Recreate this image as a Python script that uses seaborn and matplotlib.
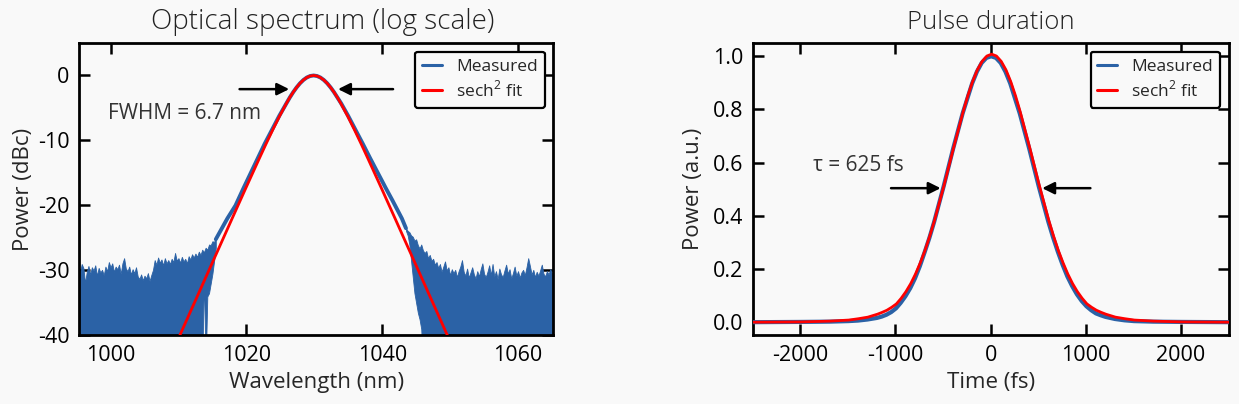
import numpy as np
import pandas as pd
import seaborn as sns
import matplotlib.pyplot as plt

# ---- optical spectrum (dBc vs nm) ----
fit_wl = [1009.9, 1011.9, 1013.9, 1015.9, 1017.9, 1019.9, 1021.9, 1022.9, 1023.9, 1024.9,
          1025.9, 1026.4, 1026.9, 1027.4, 1027.9, 1028.4, 1028.9, 1029.4, 1029.9, 1030.4,
          1030.9, 1031.4, 1031.9, 1032.4, 1032.9, 1033.4, 1033.9, 1034.9, 1035.9, 1036.9,
          1037.9, 1039.9, 1041.9, 1043.9, 1045.9, 1047.9, 1049.9]
fit_db = [-40.68, -36.01, -31.34, -26.68, -22.01, -17.37, -12.78, -10.52, -8.33, -6.23,
          -4.28, -3.38, -2.56, -1.83, -1.20, -0.69, -0.31, -0.08, 0.0, -0.08,
          -0.31, -0.69, -1.20, -1.83, -2.56, -3.38, -4.28, -6.23, -8.33, -10.52,
          -12.78, -17.37, -22.01, -26.68, -31.34, -36.01, -40.68]

meas_wl = [1015.5, 1017.2, 1018.4, 1019.55, 1021.65, 1022.7, 1023.8, 1024.85, 1025.9, 1026.4,
           1026.9, 1027.4, 1027.9, 1028.4, 1028.9, 1029.4, 1029.9, 1030.4, 1030.9, 1031.4,
           1031.9, 1032.4, 1032.9, 1033.4, 1033.95, 1035.0, 1036.05, 1037.15, 1038.25, 1040.55,
           1041.5, 1042.9, 1043.5]
meas_db = [-25.2, -22.0, -20.0, -17.4, -12.8, -10.5, -8.3, -6.2, -4.28, -3.38,
           -2.56, -1.83, -1.20, -0.69, -0.31, -0.08, 0.0, -0.08, -0.31, -0.69,
           -1.20, -1.83, -2.56, -3.38, -4.28, -6.23, -8.33, -10.52, -12.78, -17.37,
           -19.2, -22.0, -23.5]

# noise floor, left wing (top and bottom of the noisy band)
noise_l_wl = [995.0, 995.25, 995.5, 995.75, 996.0, 996.25, 996.5, 996.75, 997.0, 997.25,
              997.5, 997.75, 998.0, 998.25, 998.5, 998.75, 999.0, 999.25, 999.5, 999.75,
              1000.0, 1000.25, 1000.5, 1000.75, 1001.0, 1001.25, 1001.5, 1001.75, 1002.0, 1002.25,
              1002.5, 1002.75, 1003.0, 1003.25, 1003.5, 1003.75, 1004.0, 1004.25, 1004.5, 1004.75,
              1005.0, 1005.25, 1005.5, 1005.75, 1006.0, 1006.25, 1006.5, 1006.75, 1007.0, 1007.25,
              1007.5, 1007.75, 1008.0, 1008.25, 1008.5, 1008.75, 1009.0, 1009.25, 1009.5, 1009.75,
              1010.0, 1010.25, 1010.5, 1010.75, 1011.0, 1011.25, 1011.5, 1011.75, 1012.0, 1012.25,
              1012.5, 1012.75, 1013.0, 1013.25, 1013.5, 1013.75, 1014.0, 1014.25, 1014.5, 1014.75,
              1015.0, 1015.25, 1015.5]
noise_l_top = [-29.8, -29.1, -30.4, -29.0, -29.6, -31.9, -30.2, -29.3, -30.6, -29.5,
               -30.0, -29.2, -30.8, -29.6, -30.3, -29.9, -30.7, -29.4, -30.1, -28.7,
               -29.5, -28.9, -30.2, -29.4, -29.8, -29.1, -30.5, -28.9, -28.1, -29.7,
               -30.1, -29.4, -30.6, -29.8, -30.4, -29.5, -30.9, -31.3, -30.6, -31.5,
               -30.8, -31.2, -30.4, -31.6, -30.7, -29.9, -28.4, -29.1, -28.0, -28.8,
               -28.3, -29.2, -28.1, -28.9, -28.4, -29.0, -28.2, -28.7, -27.3, -28.5,
               -28.1, -28.8, -27.9, -28.6, -28.2, -28.9, -27.8, -28.3, -27.5, -28.0,
               -27.4, -27.9, -27.1, -27.6, -26.8, -27.2, -26.5, -26.8, -26.0, -26.1,
               -25.5, -25.6, -25.0]
noise_l_bot = [-45] * 75 + [-31.0, -45.0, -34.0, -33.5, -32.0, -30.5, -28.5, -26.5]

# noise floor, right wing
noise_r_wl = [1043.5, 1043.75, 1044.0, 1044.25, 1044.5, 1044.75, 1045.0, 1045.25, 1045.5, 1045.75,
              1046.0, 1046.25, 1046.5, 1046.75, 1047.0, 1047.25, 1047.5, 1047.75, 1048.0, 1048.25,
              1048.5, 1048.75, 1049.0, 1049.25, 1049.5, 1049.75, 1050.0, 1050.25, 1050.5, 1050.75,
              1051.0, 1051.25, 1051.5, 1051.75, 1052.0, 1052.25, 1052.5, 1052.75, 1053.0, 1053.25,
              1053.5, 1053.75, 1054.0, 1054.25, 1054.5, 1054.75, 1055.0, 1055.25, 1055.5, 1055.75,
              1056.0, 1056.25, 1056.5, 1056.75, 1057.0, 1057.25, 1057.5, 1057.75, 1058.0, 1058.25,
              1058.5, 1058.75, 1059.0, 1059.25, 1059.5, 1059.75, 1060.0, 1060.25, 1060.5, 1060.75,
              1061.0, 1061.25, 1061.5, 1061.75, 1062.0, 1062.25, 1062.5, 1062.75, 1063.0, 1063.25,
              1063.5, 1063.75, 1064.0, 1064.25, 1064.5, 1064.75, 1065.0, 1065.25, 1065.5]
noise_r_top = [-23.5, -23.9, -24.1, -24.6, -24.8, -25.4, -25.2, -26.1, -26.6, -26.0,
               -26.9, -27.3, -27.0, -28.1, -27.6, -28.5, -28.2, -29.1, -28.7, -29.6,
               -29.0, -30.2, -29.4, -28.6, -30.0, -29.5, -30.7, -29.8, -30.4, -29.9,
               -31.0, -30.1, -29.4, -28.4, -30.2, -30.8, -29.7, -31.1, -30.3, -29.5,
               -30.6, -31.2, -30.1, -30.9, -29.8, -28.9, -30.5, -31.0, -30.2, -29.2,
               -30.7, -29.0, -30.9, -30.1, -31.3, -29.7, -30.6, -31.0, -30.0, -29.1,
               -30.5, -29.8, -31.2, -30.4, -29.4, -30.8, -30.1, -31.1, -30.3, -29.9,
               -30.7, -29.5, -28.1, -29.3, -30.6, -29.9, -31.0, -30.2, -30.8, -30.0,
               -29.1, -30.5, -30.9, -30.1, -30.6, -29.8, -30.4, -30.9, -30.2]
noise_r_bot = [-23.9, -24.6, -26.0, -28.5, -31.0, -33.5, -35.0, -36.5, -37.5, -39.0] + [-45] * 79

# ---- pulse (a.u. vs fs) ----
pulse_fit_t = [-2490, -1990, -1690, -1490, -1390, -1290, -1190, -1140, -1090, -1040,
               -990, -940, -890, -840, -790, -740, -690, -640, -590, -490,
               -390, -290, -240, -190, -140, -90, -40, 10, 60, 110,
               160, 210, 260, 310, 410, 510, 610, 660, 710, 760,
               810, 860, 910, 960, 1010, 1060, 1110, 1160, 1210, 1310,
               1410, 1510, 1710, 2010, 2510]
pulse_fit_v = [0.0, 0.001, 0.004, 0.008, 0.013, 0.019, 0.030, 0.037, 0.045, 0.056,
               0.069, 0.090, 0.115, 0.145, 0.181, 0.223, 0.270, 0.324, 0.383, 0.515,
               0.656, 0.791, 0.852, 0.905, 0.949, 0.981, 1.001, 1.008, 1.001, 0.981,
               0.949, 0.905, 0.852, 0.791, 0.656, 0.515, 0.383, 0.324, 0.270, 0.223,
               0.181, 0.145, 0.115, 0.090, 0.069, 0.056, 0.045, 0.037, 0.030, 0.019,
               0.013, 0.008, 0.004, 0.001, 0.0]

pulse_meas_t = [-2495, -1995, -1695, -1495, -1395, -1295, -1195, -1145, -1095, -1045,
                -995, -945, -895, -845, -795, -745, -695, -645, -595, -495,
                -395, -295, -195, -145, -95, -45, 5, 55, 105, 155,
                205, 305, 405, 505, 605, 655, 705, 755, 805, 855,
                905, 955, 1005, 1055, 1105, 1155, 1205, 1305, 1405, 1505,
                1705, 2005, 2505]
pulse_meas_v = [0.0, 0.001, 0.002, 0.004, 0.006, 0.010, 0.016, 0.021, 0.028, 0.038,
                0.052, 0.073, 0.098, 0.128, 0.165, 0.210, 0.262, 0.316, 0.376, 0.510,
                0.652, 0.785, 0.898, 0.942, 0.975, 0.994, 1.0, 0.994, 0.975, 0.942,
                0.898, 0.785, 0.652, 0.510, 0.378, 0.319, 0.265, 0.216, 0.172, 0.136,
                0.105, 0.080, 0.060, 0.045, 0.033, 0.026, 0.020, 0.012, 0.007, 0.004,
                0.002, 0.001, 0.0]

blue = "#2b62a6"
red = "#ff0000"
bg = "#f9f9f9"
txt = "#333333"

sns.set_theme(style="ticks")
plt.rcParams["font.family"] = ["Open Sans", "DejaVu Sans"]
plt.rcParams["mathtext.fontset"] = "custom"
plt.rcParams["mathtext.rm"] = "Open Sans"
plt.rcParams["axes.unicode_minus"] = False
plt.rcParams["axes.linewidth"] = 2.0
plt.rcParams["axes.edgecolor"] = "black"

fig = plt.figure(figsize=(12.39, 4.04), dpi=100, facecolor=bg)
ax1 = fig.add_axes([0.064, 0.1696, 0.3826, 0.724])
ax2 = fig.add_axes([0.6075, 0.1696, 0.3842, 0.724])

# left: spectrum
ax1.fill_between(noise_l_wl, noise_l_bot, noise_l_top, color=blue, lw=0.6, zorder=2)
ax1.fill_between(noise_r_wl, noise_r_bot, noise_r_top, color=blue, lw=0.6, zorder=2)
sns.lineplot(x=meas_wl, y=meas_db, ax=ax1, color=blue, linewidth=2.8, sort=False,
             label="Measured", zorder=3)
sns.lineplot(x=fit_wl, y=fit_db, ax=ax1, color=red, linewidth=2.0, sort=False,
             label="sech$^2$ fit", zorder=4)
ax1.set_xlim(995.4, 1065.2)
ax1.set_ylim(-40, 5)
ax1.set_xticks([1000, 1020, 1040, 1060])
ax1.set_yticks([0, -10, -20, -30, -40])
ax1.set_xlabel("Wavelength (nm)", fontsize=16, labelpad=4)
ax1.set_ylabel("Power (dBc)", fontsize=16, labelpad=3)
ax1.set_title("Optical spectrum (log scale)", fontsize=20, pad=10, color="#222222",
              fontweight="light", x=0.513)

arrow = dict(arrowstyle="-|>", color="black", lw=1.8, mutation_scale=18, shrinkA=0, shrinkB=0)
ax1.annotate("", xy=(1026.3, -2.1), xytext=(1019.0, -2.1), arrowprops=arrow)
ax1.annotate("", xy=(1033.5, -2.1), xytext=(1041.6, -2.1), arrowprops=arrow)
ax1.text(999.6, -5.85, "FWHM = 6.7 nm", fontsize=15, color=txt, va="center", ha="left")

# right: pulse
sns.lineplot(x=pulse_meas_t, y=pulse_meas_v, ax=ax2, color=blue, linewidth=3.0, sort=False,
             label="Measured", zorder=3)
sns.lineplot(x=pulse_fit_t, y=pulse_fit_v, ax=ax2, color=red, linewidth=2.0, sort=False,
             label="sech$^2$ fit", zorder=4)
ax2.set_xlim(-2500, 2500)
ax2.set_ylim(-0.05, 1.05)
ax2.set_xticks([-2000, -1000, 0, 1000, 2000])
ax2.set_yticks([0.0, 0.2, 0.4, 0.6, 0.8, 1.0])
ax2.yaxis.set_major_formatter(plt.FormatStrFormatter("%.1f"))
ax2.set_xlabel("Time (fs)", fontsize=16, labelpad=4)
ax2.set_ylabel("Power (a.u.)", fontsize=16, labelpad=6)
ax2.set_title("Pulse duration", fontsize=18.5, pad=10, color="#222222", fontweight="light")
ax2.annotate("", xy=(-526, 0.504), xytext=(-1047, 0.504), arrowprops=arrow)
ax2.annotate("", xy=(541, 0.504), xytext=(1047, 0.504), arrowprops=arrow)
ax2.text(-1866, 0.591, "τ = 625 fs", fontsize=15, color=txt, va="center", ha="left")

for ax in (ax1, ax2):
    ax.set_facecolor(bg)
    ax.tick_params(direction="in", length=8, width=1.8, top=True, right=True,
                   labelsize=15.5, pad=7, colors="black")
    for s in ax.spines.values():
        s.set_linewidth(2.0)
    leg = ax.legend(loc="upper right", fontsize=12.5, frameon=True, fancybox=True,
                    handlelength=1.15, handletextpad=0.8, borderpad=0.4,
                    borderaxespad=0.5, labelspacing=0.3, framealpha=1)
    leg.get_frame().set_edgecolor("black")
    leg.get_frame().set_linewidth(1.6)
    leg.get_frame().set_facecolor(bg)
    leg.get_frame().set_boxstyle("round", pad=0, rounding_size=0.15)
    for line in leg.get_lines():
        line.set_linewidth(2.2)

fig.savefig("out.png", dpi=100, facecolor=bg)
